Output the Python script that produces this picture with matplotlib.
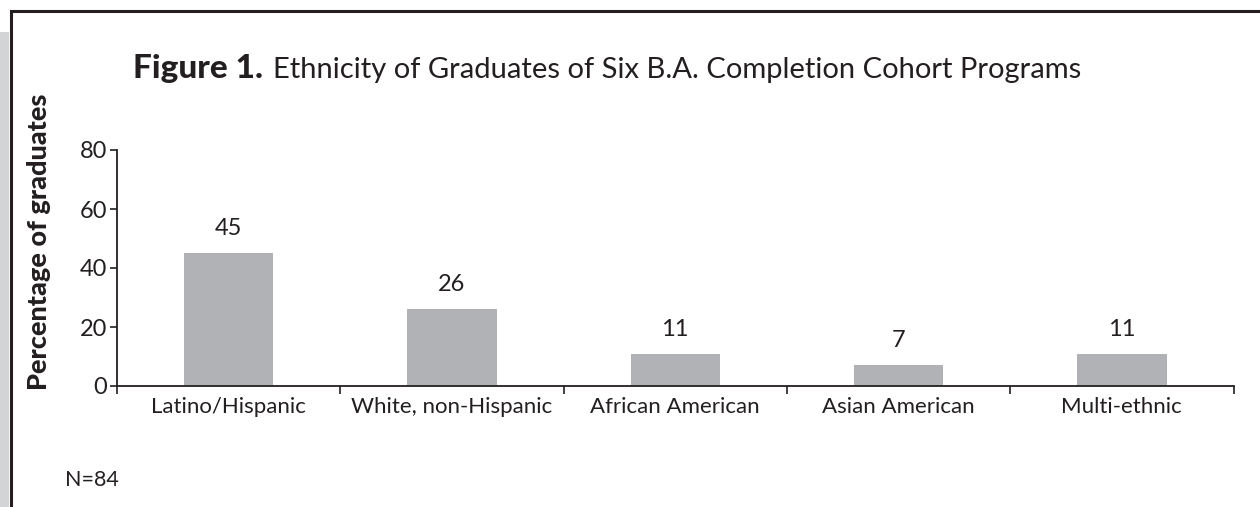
import matplotlib.pyplot as plt
from matplotlib.patches import Rectangle
from matplotlib.lines import Line2D

categories = ["Latino/Hispanic", "White, non-Hispanic", "African American",
              "Asian American", "Multi-ethnic"]
percentages = [45, 26, 11, 7, 11]
yticks = [0, 20, 40, 60, 80]

ink = "#231f20"
bar_color = "#b1b2b6"
font = ["Lato", "DejaVu Sans"]
plt.rcParams["font.family"] = font

fig = plt.figure(figsize=(12.6, 5.07), dpi=100)
W, H = 1260, 507

# page frame: grey strip and black rule on the top/left
fig.patches.append(Rectangle((0, 0), 9 / W, (H - 32) / H, transform=fig.transFigure,
                             facecolor="#d3d4d5", edgecolor="none"))
fig.lines.append(Line2D([11 / W, 11 / W], [0, (H - 11) / H], transform=fig.transFigure,
                        color=ink, lw=2.2, solid_capstyle="projecting"))
fig.lines.append(Line2D([11 / W, 1], [(H - 11) / H, (H - 11) / H], transform=fig.transFigure,
                        color=ink, lw=2.2, solid_capstyle="projecting"))

ax = fig.add_axes([117 / W, (H - 386) / H, (1233.5 - 117) / W, (386 - 150) / H])
x = range(len(categories))
bars = ax.bar(x, percentages, width=0.4, color=bar_color, zorder=2)
for xi, v in zip(x, percentages):
    ax.annotate(str(v), (xi, v), xytext=(0, 10), textcoords="offset points",
                ha="center", va="bottom", fontsize=17, color=ink)

ax.set_xlim(-0.5, len(categories) - 0.5)
ax.set_ylim(0, 80)
ax.set_yticks(yticks)
ax.set_xticks(list(x))
ax.set_xticklabels(categories)
ax.set_xticks([i - 0.5 for i in range(len(categories) + 1)], minor=True)
ax.tick_params(axis="x", which="major", length=0, pad=8, labelsize=16, labelcolor=ink)
ax.tick_params(axis="x", which="minor", length=6, width=1.2, color=ink, direction="out")
ax.tick_params(axis="y", length=5, width=1.2, color=ink, labelsize=17, labelcolor=ink, pad=2)
for s in ("top", "right"):
    ax.spines[s].set_visible(False)
for s in ("left", "bottom"):
    ax.spines[s].set_color(ink)
    ax.spines[s].set_linewidth(1.3)

fig.text(39 / W, (H - 242) / H, "Percentage of graduates", rotation=90,
         ha="center", va="center", fontsize=19.5, fontweight="black", color=ink)

# title: bold lead-in followed by regular text
t1 = fig.text(133 / W, (H - 78) / H, "Figure 1.", fontsize=24, fontweight="black",
              color=ink, va="baseline", ha="left")
fig.canvas.draw()
bb = t1.get_window_extent()
fig.text((bb.x1 + 10) / W, (H - 78) / H,
         "Ethnicity of Graduates of Six B.A. Completion Cohort Programs",
         fontsize=21, color=ink, va="baseline", ha="left")

fig.text(65 / W, (H - 480) / H, "N=84", fontsize=15.5, color=ink, va="center", ha="left")

fig.savefig("out.png", dpi=100)
